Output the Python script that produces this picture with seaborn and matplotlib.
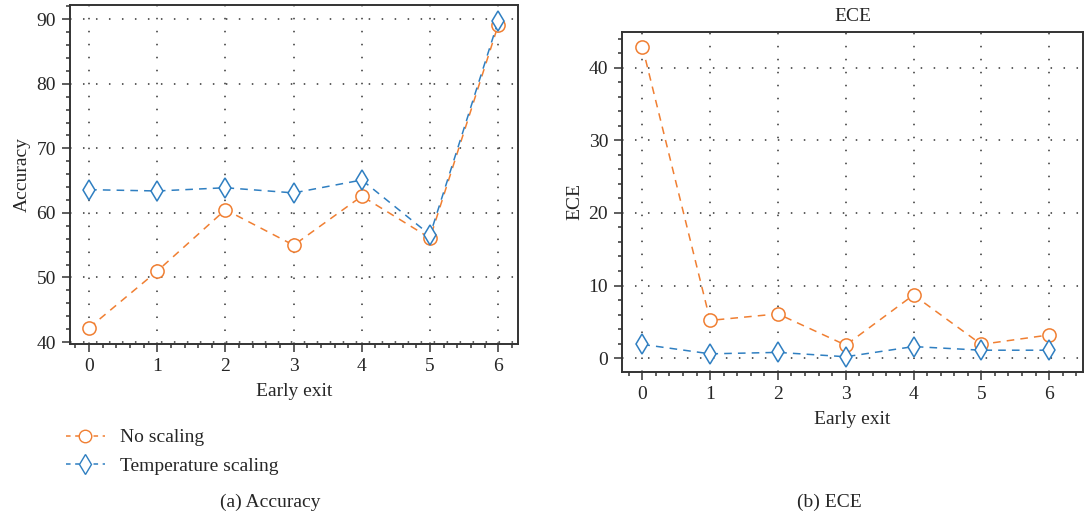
import numpy as np
import matplotlib
matplotlib.use("Agg")
import matplotlib.pyplot as plt
import seaborn as sns
from matplotlib.ticker import MultipleLocator
from matplotlib.lines import Line2D

exits = [0, 1, 2, 3, 4, 5, 6]
acc_no_scaling = [42.2, 51.0, 60.5, 55.0, 62.6, 56.1, 89.1]
acc_temp_scaling = [63.6, 63.4, 63.9, 63.1, 65.1, 56.6, 89.7]
ece_no_scaling = [42.9, 5.2, 6.1, 1.8, 8.7, 1.9, 3.2]
ece_temp_scaling = [1.9, 0.6, 0.8, 0.2, 1.6, 1.1, 1.1]
series_names = ["No scaling", "Temperature scaling"]

orange = "#F07F32"
blue = "#2F7FC1"
fs = 14

sns.set_style("ticks")
plt.rcParams["font.family"] = ["Liberation Serif", "DejaVu Serif"]
plt.rcParams["font.size"] = fs

fig = plt.figure(figsize=(10.84, 5.15), dpi=100)
ax1 = fig.add_axes([70 / 1084, 1 - 344 / 515, 448 / 1084, 339 / 515])
ax2 = fig.add_axes([622 / 1084, 1 - 372 / 515, 461 / 1084, 340 / 515])


def draw(ax, no_vals, temp_vals):
    sns.lineplot(x=exits, y=no_vals, ax=ax, color=orange, linestyle=(0, (5, 4)),
                 linewidth=1.1, marker="o", markersize=9.5, mfc="white", mec=orange,
                 mew=1.1, zorder=3)
    sns.lineplot(x=exits, y=temp_vals, ax=ax, color=blue, linestyle=(0, (5, 4)),
                 linewidth=1.1, marker="d", markersize=10, mfc="white", mec=blue,
                 mew=1.1, zorder=4)
    ax.grid(True, which="major", color="#333333", linestyle=(0, (1, 7.5)), linewidth=1.1)
    ax.xaxis.set_major_locator(MultipleLocator(1))
    ax.xaxis.set_minor_locator(MultipleLocator(0.2))
    ax.yaxis.set_major_locator(MultipleLocator(10))
    ax.yaxis.set_minor_locator(MultipleLocator(2))
    ax.tick_params(which="major", direction="out", length=6, width=1.1, color="#333333",
                   labelsize=fs, pad=4)
    ax.tick_params(which="minor", direction="out", length=3, width=1.1, color="#333333")
    for s in ax.spines.values():
        s.set_linewidth(1.4)
        s.set_color("#333333")
    ax.set_xlabel("Early exit", fontsize=fs, labelpad=6)


draw(ax1, acc_no_scaling, acc_temp_scaling)
ax1.set_xlim(-0.28, 6.29)
ax1.set_ylim(39.7, 92.2)
ax1.set_ylabel("Accuracy", fontsize=fs, labelpad=4)

draw(ax2, ece_no_scaling, ece_temp_scaling)
ax2.set_xlim(-0.3, 6.5)
ax2.set_ylim(-1.9, 44.9)
ax2.set_ylabel("ECE", fontsize=fs, labelpad=4)
ax2.set_title("ECE", fontsize=fs, pad=8)

handles = [
    Line2D([], [], color=orange, linestyle=(0, (3, 3)), linewidth=1.1, marker="o",
           markersize=9, mfc="white", mec=orange),
    Line2D([], [], color=blue, linestyle=(0, (3, 3)), linewidth=1.1, marker="d",
           markersize=10, mfc="white", mec=blue),
]
fig.legend(handles, series_names, loc="upper left", bbox_to_anchor=(58 / 1084, 1 - 421 / 515),
           frameon=False, fontsize=fs, handlelength=2.0, handletextpad=0.8,
           labelspacing=0.58, borderaxespad=0.0)

fig.text(270 / 1084, 1 - 502 / 515, "(a) Accuracy", ha="center", va="center", fontsize=fs)
fig.text(829 / 1084, 1 - 502 / 515, "(b) ECE", ha="center", va="center", fontsize=fs)

fig.savefig("out.png", dpi=100)
